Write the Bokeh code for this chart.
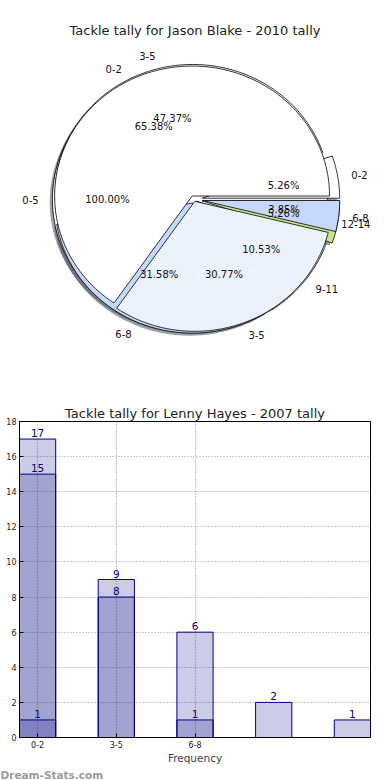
import numpy as np
from bokeh.plotting import figure
from bokeh.layouts import column
from bokeh.models import Range1d, FixedTicker, LabelSet, ColumnDataSource, Title
from bokeh.core.properties import value
from bokeh.embed import file_html
from bokeh.resources import INLINE

FONT = "DejaVu Sans"

# ---------------- Pie data (three pies overlaid on one axes) ----------------
pie_c_labels = ["0-5"]
pie_c_values = [1]
pie_a_labels = ["0-2", "3-5", "6-8", "9-11", "12-14"]
pie_a_values = [1, 9, 6, 2, 1]
pie_b_labels = ["0-2", "3-5", "6-8"]
pie_b_values = [17, 8, 1]

# styles
pie_colors = ["#ffffff", "#ebf2fe", "#c6d9fd", "#ebf2fe", "#c9e58b"]
pie_c_explode = [0.03]
pie_a_explode = [0.06, 0.04, 0.03, 0.02, 0.06]
pie_b_explode = [0.03, 0.015, 0.06]
label_nudge_px = {"12-14": -10}   # keep the last label inside the drawing area

# ---------------- Bar data ----------------
bar_categories = ["0-2", "3-5", "6-8", "9-11", "12-14"]
bar_tick_labels = ["0-2", "3-5", "6-8"]
bar_top = [17, 9, 6, 2, 1]
bar_mid = [15, 8, 1]
bar_low = [1]
y_ticks = [0, 2, 4, 6, 8, 10, 12, 14, 16, 18]


def pie_layer(labels, values, explode, colors):
    total = float(sum(values))
    t1 = 0.0
    out = []
    for i, (lab, v, e) in enumerate(zip(labels, values, explode)):
        frac = v / total
        t2 = t1 + 2 * np.pi * frac
        mid = 0.5 * (t1 + t2)
        ox, oy = e * np.cos(mid), e * np.sin(mid)
        n = max(4, int(np.degrees(t2 - t1)))
        ang = np.linspace(t1, t2, n + 1)
        xs = list(ox + np.cos(ang))
        ys = list(oy + np.sin(ang))
        if frac < 0.9999:
            xs = [ox] + xs + [ox]
            ys = [oy] + ys + [oy]
        lx = ox + 1.1 * np.cos(mid)
        ly = oy + 1.1 * np.sin(mid)
        out.append(dict(xs=xs, ys=ys, color=colors[i % len(colors)],
                        lx=lx, ly=ly, align="left" if lx > 0 else "right",
                        px=ox + 0.6 * np.cos(mid), py=oy + 0.6 * np.sin(mid),
                        label=lab, pct="%.2f%%" % (100 * frac)))
        t1 = t2
    return out


layers = [
    pie_layer(pie_c_labels, pie_c_values, pie_c_explode, pie_colors),
    pie_layer(pie_a_labels, pie_a_values, pie_a_explode, pie_colors),
    pie_layer(pie_b_labels, pie_b_values, pie_b_explode, pie_colors),
]

# canvas geometry of the pie (center & radii in px) and of its frame
CX, CY, RX, RY = 194, 199, 141, 130
P1_W, P1_H = 390, 398
B_L, B_R, B_T, B_B = 15, 15, 42, 15
FL, FR, FT, FB = B_L, P1_W - B_R, B_T, P1_H - B_B

p1 = figure(width=P1_W, height=P1_H, output_backend="svg", toolbar_location=None,
            x_axis_location=None, y_axis_location=None,
            x_range=Range1d((FL - CX) / RX, (FR - CX) / RX),
            y_range=Range1d(-(FB - CY) / RY, (CY - FT) / RY),
            min_border_left=B_L, min_border_right=B_R, min_border_bottom=B_B,
            min_border_top=B_T,
            title="Tackle tally for Jason Blake - 2010 tally")
p1.grid.visible = False
p1.outline_line_color = None
p1.title.text_font = FONT
p1.title.text_font_size = "13px"
p1.title.text_font_style = "normal"
p1.title.text_color = "#222222"
p1.title.align = "center"
p1.title.standoff = 9


def shade(c):
    c = c.lstrip("#")
    r, g, b = (int(c[k:k + 2], 16) for k in (0, 2, 4))
    return "#%02x%02x%02x" % (int(r * 0.3), int(g * 0.3), int(b * 0.3))


# shadows (drawn beneath all wedges)
sx, sy, sc = [], [], []
for layer in layers:
    for w in layer:
        sx.append([x - 0.02 for x in w["xs"]])
        sy.append([y - 0.02 for y in w["ys"]])
        sc.append(shade(w["color"]))
p1.patches(xs=sx, ys=sy, fill_color=sc, fill_alpha=0.5, line_color=None)

for layer in layers:
    p1.patches(xs=[w["xs"] for w in layer], ys=[w["ys"] for w in layer],
               fill_color=[w["color"] for w in layer], line_color="black",
               line_width=0.8)

text_kw = dict(text_font=value(FONT), text_font_size="10px", text_color="#111111",
               text_baseline="middle")
for layer in layers:
    for al in ("left", "right"):
        ws = [w for w in layer if w["align"] == al]
        if ws:
            src = ColumnDataSource(dict(x=[w["lx"] for w in ws], y=[w["ly"] for w in ws],
                                        t=[w["label"] for w in ws],
                                        dx=[label_nudge_px.get(w["label"], 0) for w in ws]))
            p1.add_layout(LabelSet(x="x", y="y", text="t", source=src, x_offset="dx",
                                   text_align=al, **text_kw))
    src = ColumnDataSource(dict(x=[w["px"] for w in layer], y=[w["py"] for w in layer],
                                t=[w["pct"] for w in layer]))
    p1.add_layout(LabelSet(x="x", y="y", text="t", source=src, text_align="center",
                           **text_kw))

# ---------------- Bar chart ----------------
P2_W, P2_H = 390, 382
p2 = figure(width=P2_W, height=P2_H, output_backend="svg", toolbar_location=None,
            x_range=Range1d(-0.23, len(bar_categories) - 1 + 0.23),
            y_range=Range1d(0, 18),
            min_border_left=19, min_border_right=20, min_border_top=23,
            min_border_bottom=40,
            title="Tackle tally for Lenny Hayes - 2007 tally")
p2.title.text_font = FONT
p2.title.text_font_size = "13px"
p2.title.text_font_style = "normal"
p2.title.text_color = "#222222"
p2.title.align = "center"
p2.title.standoff = 2

xs_top = list(range(len(bar_top)))
xs_mid = list(range(len(bar_mid)))
xs_low = list(range(len(bar_low)))
for xs, vals in ((xs_top, bar_top), (xs_mid, bar_mid), (xs_low, bar_low)):
    p2.vbar(x=xs, top=vals, bottom=0, width=0.46, fill_color="#000080",
            fill_alpha=0.2, line_color="#000080", line_width=1)
for xs, vals in ((xs_top, bar_top), (xs_mid, bar_mid), (xs_low, bar_low)):
    p2.text(x=xs, y=vals, text=[str(v) for v in vals], text_align="center",
            text_baseline="bottom", text_color="#000080",
            text_font=value(FONT), text_font_size="10.5px", y_offset=-2)

p2.xaxis.ticker = FixedTicker(ticks=list(range(len(bar_tick_labels))))
p2.xaxis.major_label_overrides = {i: t for i, t in enumerate(bar_tick_labels)}
p2.yaxis.ticker = FixedTicker(ticks=y_ticks)
p2.xaxis.axis_label = "Frequency"
for ax in (p2.xaxis, p2.yaxis):
    ax.major_label_text_font = FONT
    ax.major_label_text_font_size = "8px"
    ax.major_label_text_color = "#222222"
    ax.major_tick_in = 4
    ax.major_tick_out = 0
    ax.minor_tick_in = 0
    ax.minor_tick_out = 0
    ax.major_label_standoff = 3
    ax.axis_line_color = "black"
p2.xaxis.axis_label_text_font = FONT
p2.xaxis.axis_label_text_font_size = "10.5px"
p2.xaxis.axis_label_text_font_style = "normal"
p2.xaxis.axis_label_standoff = 1
p2.outline_line_color = "black"
p2.outline_line_alpha = 1
p2.xgrid.ticker = FixedTicker(ticks=list(range(len(bar_tick_labels))))
for g in (p2.xgrid, p2.ygrid):
    g.grid_line_color = "#999999"
    g.grid_line_dash = "1 2"
    g.grid_line_width = 1.2
    g.grid_line_alpha = 1

# watermark in a panel below the x axis
p2.add_layout(Title(text="Dream-Stats.com", align="left", offset=-19, standoff=0,
                    text_font=FONT, text_font_size="10.5px", text_font_style="bold",
                    text_color="#9a9a9a"), "below")

layout = column(p1, p2, spacing=0)
open("out.html", "w").write(file_html(layout, INLINE))
